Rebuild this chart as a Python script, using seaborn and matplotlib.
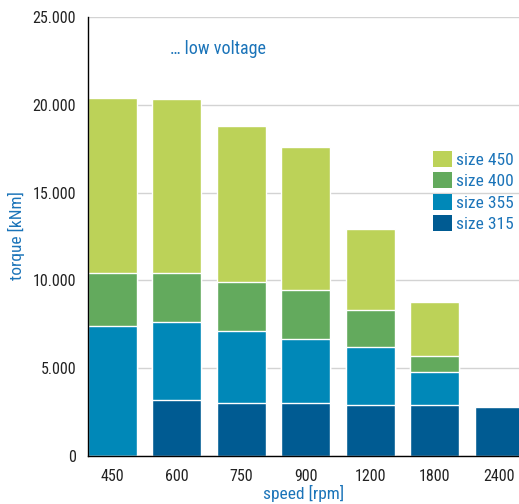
import numpy as np
import pandas as pd
import matplotlib
matplotlib.use("Agg")
import matplotlib.pyplot as plt
from matplotlib.patches import Patch
from matplotlib.ticker import FuncFormatter
import seaborn as sns

# Torque per motor frame size at each rated speed (kNm, stacked segments)
speeds = ["450", "600", "750", "900", "1200", "1800", "2400"]
size_315 = [0, 3200, 3000, 3000, 2900, 2900, 2800]
size_355 = [7400, 4450, 4100, 3650, 3300, 1880, 0]
size_400 = [3000, 2750, 2800, 2800, 2100, 920, 0]
size_450 = [10000, 9950, 8900, 8150, 4650, 3050, 0]

series_names = ["size 315", "size 355", "size 400", "size 450"]
series_vals = [size_315, size_355, size_400, size_450]
colors = ["#005b92", "#0088b8", "#63aa5d", "#bcd258"]

blue_text = "#1b74b9"
tick_color = "#222222"

sns.set_theme(style="white")
plt.rcParams["font.family"] = ["Roboto Condensed", "Liberation Sans", "DejaVu Sans"]

df = pd.DataFrame({"speed": speeds})
cum = np.zeros(len(speeds))
for name, vals in zip(series_names, series_vals):
    cum = cum + np.array(vals, dtype=float)
    df[name] = cum.copy()

fig = plt.figure(figsize=(5.19, 5.04), dpi=100)
ax = fig.add_axes([88 / 519, 48 / 504, 1 - 88 / 519, (456 - 17) / 504])

# draw cumulative totals from the top segment down so each layer shows its share
for name, color in zip(series_names[::-1], colors[::-1]):
    sns.barplot(data=df, x="speed", y=name, color=color, width=0.76,
                saturation=1, ax=ax, order=speeds, zorder=3)

ax.set_xlim(-0.38, 6.31)
ax.set_ylim(0, 25000)
ax.set_yticks(np.arange(0, 25001, 5000))
ax.yaxis.set_major_formatter(FuncFormatter(lambda v, p: f"{int(v):,}".replace(",", ".")))
ax.grid(axis="y", color="#d3d3d3", linewidth=1.0, zorder=0)
ax.grid(axis="x", visible=False)
ax.set_axisbelow(True)

for s in ["top", "right"]:
    ax.spines[s].set_visible(False)
for s in ["left", "bottom"]:
    ax.spines[s].set_color("black")
    ax.spines[s].set_linewidth(1.0)
    ax.spines[s].set_zorder(5)

ax.tick_params(axis="both", length=0, labelsize=11.5, colors=tick_color)
ax.tick_params(axis="x", pad=9.5)
ax.tick_params(axis="y", pad=8.5)

ax.set_xlabel("speed [rpm]", color=blue_text, fontsize=12.5)
ax.xaxis.set_label_coords(0.5, -(485 - 456) / 439)
ax.set_ylabel("torque [kNm]", color=blue_text, fontsize=12.5)
ax.yaxis.set_label_coords(-0.146, 0.501)

ax.text((218 - 88) / 431, 0.926, "\u2026 low voltage", transform=ax.transAxes,
        color=blue_text, fontsize=13, ha="center", va="center")

handles = [Patch(facecolor=c, edgecolor="none") for c in colors[::-1]]
fig.legend(handles, series_names[::-1], loc="upper left",
           bbox_to_anchor=(433 / 519, 1 - 151 / 504), bbox_transform=fig.transFigure,
           frameon=False, fontsize=12.5, labelcolor=blue_text,
           handlelength=1.09, handleheight=1.05, handletextpad=0.23,
           labelspacing=0.25, borderpad=0, borderaxespad=0)

fig.savefig("out.png", dpi=100)
